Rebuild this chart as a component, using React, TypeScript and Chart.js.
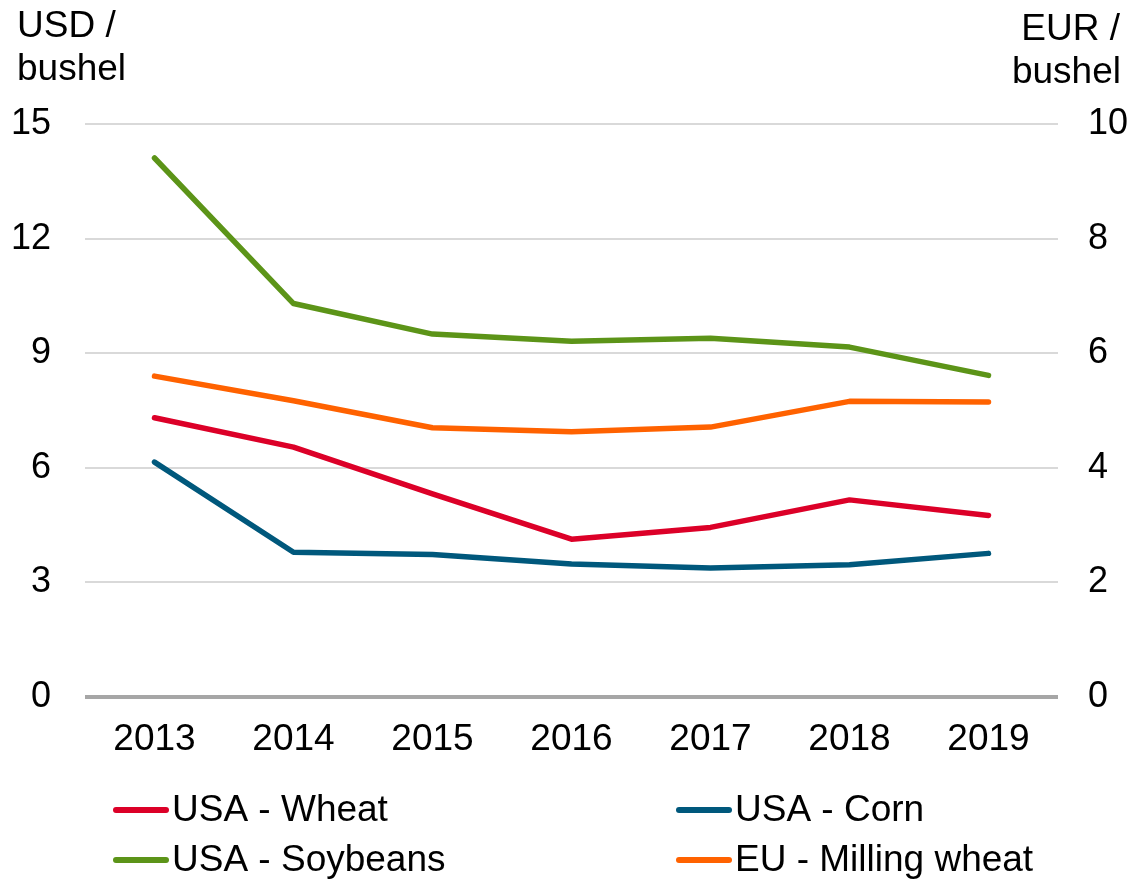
import React, { useEffect, useRef } from "react";
import { Chart, registerables } from "chart.js";

Chart.register(...registerables);

const years = ["2013", "2014", "2015", "2016", "2017", "2018", "2019"];
const usaWheat = [7.31, 6.54, 5.32, 4.13, 4.44, 5.16, 4.75];
const usaCorn = [6.15, 3.79, 3.73, 3.48, 3.38, 3.46, 3.76];
const usaSoybeans = [14.11, 10.3, 9.5, 9.31, 9.39, 9.16, 8.42];
const euMillingWheat = [5.6, 5.17, 4.7, 4.63, 4.71, 5.16, 5.15];

const leftTitle = ["USD /", "bushel"];
const rightTitle = ["EUR /", "bushel"];

const FONT = "'Liberation Sans', Arial, sans-serif";

export default function App() {
  const ref = useRef<HTMLCanvasElement | null>(null);

  useEffect(() => {
    document.body.style.margin = "0";
    const canvas = ref.current;
    if (!canvas) return;

    const titlesAndLegend = {
      id: "titlesAndLegend",
      afterDraw(chart: any) {
        const ctx = chart.ctx;
        ctx.save();
        ctx.fillStyle = "#000";
        ctx.font = `37px ${FONT}`;
        ctx.textBaseline = "alphabetic";
        ctx.textAlign = "left";
        ctx.fillText(leftTitle[0], 17, 37);
        ctx.fillText(leftTitle[1], 17, 80);
        ctx.textAlign = "right";
        ctx.fillText(rightTitle[0], 1120, 40);
        ctx.fillText(rightTitle[1], 1121, 83);

        // legend
        const cols = [113, 676];
        const rows = [810, 860];
        const order = [0, 1, 2, 3];
        ctx.font = `37px ${FONT}`;
        ctx.textAlign = "left";
        ctx.textBaseline = "middle";
        order.forEach((di, i) => {
          const ds = chart.data.datasets[di];
          const x = cols[i % 2];
          const y = rows[Math.floor(i / 2)];
          ctx.strokeStyle = ds.borderColor;
          ctx.lineWidth = 6;
          ctx.lineCap = "round";
          ctx.beginPath();
          ctx.moveTo(x + 3, y);
          ctx.lineTo(x + 53, y);
          ctx.stroke();
          ctx.fillStyle = "#000";
          ctx.fillText(ds.label, x + 59, y + 1);
        });
        ctx.restore();
      },
    };

    const chart = new Chart(canvas, {
      type: "line",
      data: {
        labels: years,
        datasets: [
          { label: "USA - Wheat", data: usaWheat, borderColor: "#DC0028", yAxisID: "y" },
          { label: "USA - Corn", data: usaCorn, borderColor: "#00587C", yAxisID: "y" },
          { label: "USA - Soybeans", data: usaSoybeans, borderColor: "#5C9418", yAxisID: "y" },
          { label: "EU - Milling wheat", data: euMillingWheat, borderColor: "#FF6200", yAxisID: "y2" },
        ].map((d) => ({
          ...d,
          borderWidth: 5.5,
          pointRadius: 0,
          pointHoverRadius: 0,
          tension: 0,
          fill: false,
          borderCapStyle: "round" as const,
          borderJoinStyle: "round" as const,
        })),
      },
      options: {
        responsive: false,
        animation: false,
        events: [],
        layout: { padding: { top: 124, left: 0, right: 0, bottom: 0 } },
        plugins: { legend: { display: false }, tooltip: { enabled: false } },
        scales: {
          x: {
            offset: true,
            grid: { display: false, drawTicks: false },
            border: { display: false },
            ticks: { color: "#000", font: { family: FONT, size: 37 }, padding: 21, maxRotation: 0 },
            afterFit(scale: any) {
              scale.height = 183;
            },
          },
          y: {
            position: "left",
            min: 0,
            max: 15,
            ticks: { stepSize: 3, color: "#000", font: { family: FONT, size: 36 }, padding: 34 },
            grid: {
              drawTicks: false,
              color: (c: any) => (c.tick && c.tick.value === 0 ? "#A6A6A6" : "#D9D9D9"),
              lineWidth: (c: any) => (c.tick && c.tick.value === 0 ? 4 : 2),
            },
            border: { display: false },
            afterFit(scale: any) {
              scale.width = 85;
            },
          },
          y2: {
            position: "right",
            min: 0,
            max: 10,
            ticks: { stepSize: 2, color: "#000", font: { family: FONT, size: 36 }, padding: 30 },
            grid: { display: false, drawTicks: false },
            border: { display: false },
            afterFit(scale: any) {
              scale.width = 79;
            },
          },
        },
      },
      plugins: [titlesAndLegend],
    });
    return () => chart.destroy();
  }, []);

  return (
    <div style={{ width: 1137, height: 880 }}>
      <canvas ref={ref} width={1137} height={880} style={{ display: "block" }} />
    </div>
  );
}
